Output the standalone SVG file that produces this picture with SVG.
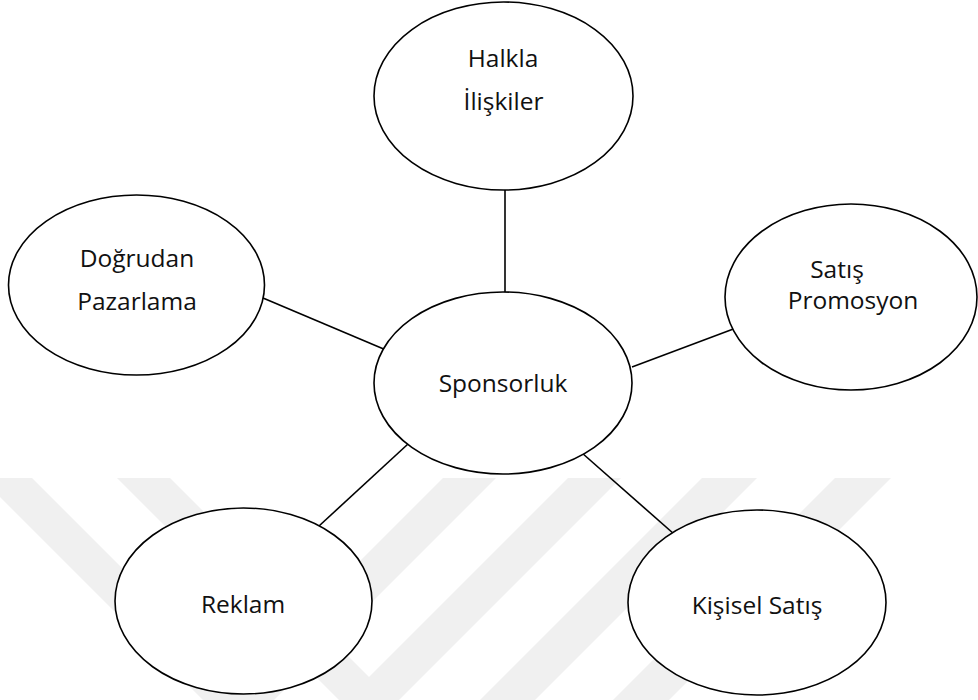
<svg xmlns="http://www.w3.org/2000/svg" width="978" height="700" viewBox="0 0 978 700">
  <style>
    .node ellipse { fill: #ffffff; stroke: #000000; stroke-width: 1.6; }
    .node text { font-family: "Open Sans", "Liberation Sans", sans-serif; font-size: 24.5px; fill: #111111; text-anchor: middle; }
    .edge { stroke: #000000; stroke-width: 1.6; fill: none; }
    .band { fill: #f0f0f0; }
  </style>
  <rect width="978" height="700" fill="#ffffff"/>

  <!-- faint background stripes -->
  <g id="backdrop">
    <polygon class="band" points="-19,478 32,478 254,700 203,700"/>
    <polygon class="band" points="117,478 170,478 392,700 339,700"/>
    <polygon class="band" points="443,478 496,478 274,700 221,700"/>
    <polygon class="band" points="568,478 621,478 399,700 346,700"/>
    <polygon class="band" points="702,478 757,478 535,700 480,700"/>
    <polygon class="band" points="835,478 891,478 669,700 613,700"/>
  </g>

  <!-- connectors -->
  <g id="connectors">
    <line class="edge" x1="505" y1="190" x2="505" y2="292"/>
    <line class="edge" x1="263" y1="298" x2="386" y2="350"/>
    <line class="edge" x1="744" y1="325" x2="632" y2="367"/>
    <line class="edge" x1="319" y1="526" x2="408" y2="444"/>
    <line class="edge" x1="582" y1="453" x2="674" y2="534"/>
  </g>

  <g id="halkla-iliskiler" class="node">
    <ellipse cx="503.5" cy="96" rx="129.5" ry="94"/>
    <text x="503" y="67">Halkla</text>
    <text x="503.5" y="110">İlişkiler</text>
  </g>

  <g id="dogrudan-pazarlama" class="node">
    <ellipse cx="136.5" cy="285" rx="128" ry="90"/>
    <text x="137" y="267">Doğrudan</text>
    <text x="137" y="310">Pazarlama</text>
  </g>

  <g id="satis-promosyon" class="node">
    <ellipse cx="851" cy="297" rx="126" ry="93"/>
    <text x="837" y="278">Satış</text>
    <text x="853" y="309">Promosyon</text>
  </g>

  <g id="sponsorluk" class="node">
    <ellipse cx="503" cy="383" rx="129" ry="91"/>
    <text x="503" y="392">Sponsorluk</text>
  </g>

  <g id="reklam" class="node">
    <ellipse cx="243.5" cy="601" rx="128.5" ry="93"/>
    <text x="243" y="613">Reklam</text>
  </g>

  <g id="kisisel-satis" class="node">
    <ellipse cx="757" cy="602.5" rx="129" ry="92.5"/>
    <text x="757" y="614">Kişisel Satış</text>
  </g>
</svg>
